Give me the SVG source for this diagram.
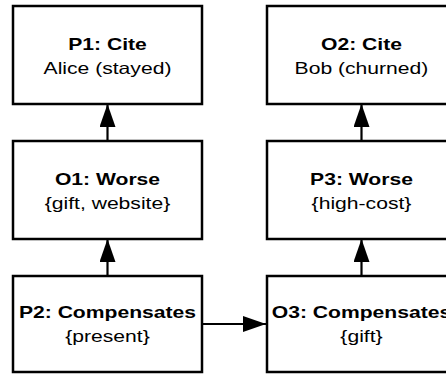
<svg xmlns="http://www.w3.org/2000/svg" width="446" height="376" viewBox="0 0 446 376">
<defs>
<style>
.box{fill:#fff;stroke:#000;stroke-width:2.5}
.edge{stroke:#000;stroke-width:2.2;fill:none}
.t{font-family:"Liberation Sans",Arial,sans-serif;font-size:16.5px;text-anchor:middle;fill:#000}
.b{font-weight:bold}
</style>
<marker id="ah" markerUnits="userSpaceOnUse" markerWidth="23" markerHeight="16" refX="23" refY="8" orient="auto">
<path d="M0,0 L23,8 L0,16 Z" fill="#000"/>
</marker>
</defs>
<rect width="446" height="376" fill="#fff"/>
<g id="connectors">
<line class="edge" x1="107.5" y1="141" x2="107.5" y2="104" marker-end="url(#ah)"/>
<line class="edge" x1="107.5" y1="276" x2="107.5" y2="239" marker-end="url(#ah)"/>
<line class="edge" x1="361.5" y1="141" x2="361.5" y2="104" marker-end="url(#ah)"/>
<line class="edge" x1="361.5" y1="276" x2="361.5" y2="239" marker-end="url(#ah)"/>
<line class="edge" x1="202" y1="324" x2="266" y2="324" marker-end="url(#ah)"/>
</g>
<g id="P1">
<rect class="box" x="13" y="6" width="189" height="98"/>
<g transform="scale(1.28 1)"><text class="t b" x="83.98" y="50">P1: Cite</text><text class="t" x="83.98" y="74">Alice (stayed)</text></g>
</g>
<g id="O1">
<rect class="box" x="13" y="141" width="189" height="98"/>
<g transform="scale(1.28 1)"><text class="t b" x="83.98" y="185">O1: Worse</text><text class="t" x="83.98" y="209">{gift, website}</text></g>
</g>
<g id="P2">
<rect class="box" x="13" y="276" width="189" height="96"/>
<g transform="scale(1.28 1)"><text class="t b" x="83.98" y="318">P2: Compensates</text><text class="t" x="83.98" y="342">{present}</text></g>
</g>
<g id="O2">
<rect class="box" x="267" y="6" width="189" height="98"/>
<g transform="scale(1.28 1)"><text class="t b" x="282.42" y="50">O2: Cite</text><text class="t" x="282.42" y="74">Bob (churned)</text></g>
</g>
<g id="P3">
<rect class="box" x="267" y="141" width="189" height="98"/>
<g transform="scale(1.28 1)"><text class="t b" x="282.42" y="185">P3: Worse</text><text class="t" x="282.42" y="209">{high-cost}</text></g>
</g>
<g id="O3">
<rect class="box" x="267" y="276" width="189" height="96"/>
<g transform="scale(1.28 1)"><text class="t b" x="282.42" y="318">O3: Compensates</text><text class="t" x="282.42" y="342">{gift}</text></g>
</g>
</svg>
